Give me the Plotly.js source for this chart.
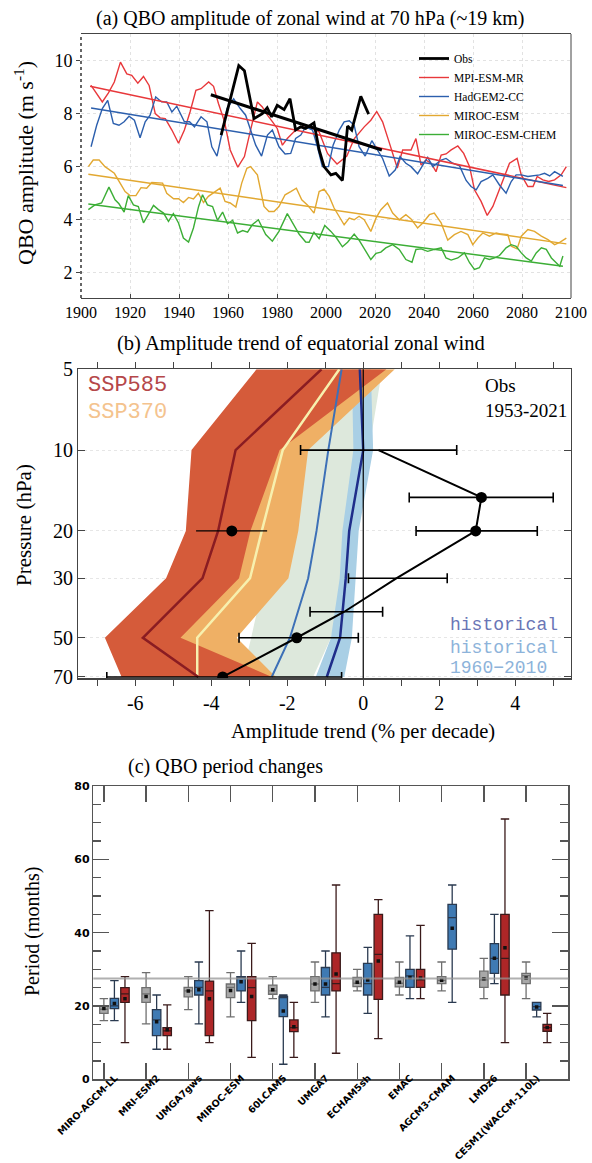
<!DOCTYPE html>
<html><head><meta charset="utf-8">
<script src="https://cdn.plot.ly/plotly-3.0.1.min.js"></script>
<style>html,body{margin:0;padding:0;background:#fff}#chart{width:592px;height:1163px}</style>
</head><body><div id="chart"></div>
<script>
// ---------------- Panel (a) data: QBO amplitude at 70 hPa ----------------
const obsYears = [1957.2,1964.4,1966.7,1970.6,1974.0,1976.0,1977.8,1980.1,1982.9,1985.3,1987.6,1989.7,1991.7,1993.8,1995.1,1997.2,1999.2,2002.0,2004.0,2006.7,2008.8,2010.5,2014.2,2017.4];
const obsAmp   = [7.19,9.81,9.62,7.81,8.0,8.22,7.88,8.31,8.15,8.56,7.38,7.5,7.44,7.56,7.65,6.63,6.0,5.69,5.75,5.48,7.53,7.38,8.65,7.98];
const obsTrendYears = [1953, 2022.8];
const obsTrendAmp   = [8.71, 6.63];

const mpiYears = [1904.1,1906.4,1908.7,1911.2,1913.6,1916.1,1918.7,1920.7,1923.2,1925.5,1927.8,1930.3,1932.3,1934.4,1937.1,1939.8,1942.2,1944.5,1946.9,1949.0,1952.1,1954.1,1956.1,1958.6,1960.9,1964.0,1966.7,1969.2,1972.0,1974.0,1976.1,1978.1,1980.1,1982.2,1984.2,1987.6,1991.1,1994.5,1997.2,2000.6,2004.5,2008.5,2011.5,2015.6,2018.3,2020.7,2023.1,2025.5,2029.1,2031.3,2034.7,2036.7,2038.8,2040.8,2042.9,2044.9,2047.0,2049.0,2051.1,2053.8,2056.2,2058.6,2060.6,2063.3,2065.8,2068.1,2070.8,2073.5,2074.9,2078.0,2079.7,2082.4,2084.5,2086.2,2088.5,2090.9,2093.3,2096.0,2098.1];
const mpiAmp   = [9.06,8.75,8.44,8.78,9.19,9.94,9.5,9.44,9.15,9.4,9.06,8.0,7.84,7.81,7.38,6.88,7.38,8.06,8.88,8.94,9.19,9.03,8.38,7.69,6.63,5.98,6.38,7.38,8.44,8.25,7.94,7.7,7.44,6.81,7.06,7.38,7.56,7.44,7.31,6.5,6.1,6.4,7.05,7.5,7.75,8.08,7.69,7.0,5.95,6.63,6.63,7.06,6.06,6.25,6.13,5.81,6.44,6.48,6.63,6.78,6.5,6.0,5.13,4.69,4.16,4.5,5.13,5.75,6.13,6.31,5.69,5.25,5.25,5.63,5.5,5.44,5.5,5.69,6.0];
const mpiTrendYears = [1903.7, 2098.1];
const mpiTrendAmp   = [9.03, 5.21];

const hadYears = [1904.1,1906.4,1908.7,1910.9,1913.2,1915.5,1917.6,1919.6,1921.8,1924.1,1926.2,1928.2,1930.5,1932.9,1935.0,1937.1,1939.1,1942.2,1944.3,1946.3,1949.0,1951.4,1953.4,1955.5,1957.5,1959.6,1962.3,1965.0,1967.2,1971.3,1973.7,1976.1,1978.1,1980.8,1983.3,1985.6,1987.6,1989.7,1991.7,1994.5,1996.5,1998.5,2001.0,2002.9,2005.4,2007.4,2009.5,2011.5,2013.5,2016.0,2018.7,2021.0,2023.1,2025.8,2028.3,2030.2,2032.6,2034.7,2037.4,2039.5,2041.5,2043.6,2047.0,2049.0,2051.7,2054.5,2057.2,2059.2,2061.3,2063.3,2066.0,2068.1,2070.8,2073.5,2075.6,2077.6,2079.7,2082.4,2084.5,2087.2,2089.2,2091.3,2093.3,2095.4,2096.7];
const hadAmp   = [6.75,7.56,8.19,8.5,7.63,7.56,7.69,7.9,7.75,7.09,7.69,7.94,8.63,8.44,8.44,8.06,8.28,7.69,7.69,7.5,7.88,7.69,6.75,6.4,7.25,8.19,8.56,8.19,7.94,6.81,6.4,7.19,7.38,6.75,6.48,6.5,7.06,7.19,7.5,7.38,6.75,6.0,6.0,6.81,7.38,7.69,7.73,7.56,6.75,6.4,6.98,6.63,6.31,5.65,5.88,6.38,6.13,6.0,5.73,6.06,6.35,6.0,6.25,6.31,6.13,6.03,5.48,5.25,5.13,5.44,5.56,5.69,5.31,5.0,5.44,5.69,5.69,5.63,5.65,5.69,5.75,5.65,5.81,5.69,5.63];
const hadTrendYears = [1904.1, 2096.7];
const hadTrendAmp   = [8.21, 5.29];

const mirocYears = [1903.0,1905.0,1907.4,1909.8,1913.6,1916.0,1918.0,1920.0,1922.4,1924.5,1926.8,1928.9,1931.6,1933.3,1935.0,1937.8,1939.8,1941.8,1943.9,1945.9,1947.9,1950.0,1952.0,1954.7,1956.8,1958.8,1960.9,1963.2,1965.6,1967.7,1969.2,1972.0,1974.7,1976.7,1978.8,1980.8,1983.3,1985.6,1987.9,1990.1,1992.4,1995.1,1997.2,1999.2,2001.3,2003.3,2005.4,2007.4,2009.5,2011.5,2013.5,2015.6,2018.3,2020.4,2022.4,2025.1,2027.2,2029.9,2032.6,2034.7,2037.4,2039.5,2042.2,2044.2,2047.0,2049.7,2052.4,2055.1,2057.9,2059.9,2062.0,2064.0,2066.7,2069.5,2071.5,2074.2,2075.6,2078.0,2079.7,2082.4,2085.1,2087.9,2090.6,2093.3,2095.4,2098.1];
const mirocAmp   = [6.0,6.25,6.25,6.0,5.75,5.38,5.06,4.91,4.91,5.21,5.19,5.4,5.38,5.38,5.0,4.79,4.79,4.65,4.84,4.78,5.0,4.65,4.88,5.06,5.19,4.69,4.63,4.48,5.38,5.94,6.0,5.69,4.5,4.31,4.31,4.5,4.94,5.06,5.19,4.75,4.56,4.25,5.06,5.15,4.88,4.44,4.13,3.81,4.06,4.0,4.13,4.0,3.56,4.06,4.38,4.63,4.25,4.0,4.19,4.03,3.69,3.88,4.19,4.25,3.88,3.23,3.44,3.56,3.44,3.06,3.31,3.5,3.38,3.5,3.46,3.44,3.0,2.9,3.38,3.63,3.56,3.38,3.25,3.06,3.15,3.31];
const mirocTrendYears = [1903.0, 2098.1];
const mirocTrendAmp   = [5.71, 3.09];

const chemYears = [1903.0,1905.7,1908.4,1911.4,1913.9,1915.5,1917.6,1919.3,1921.4,1923.4,1925.5,1927.5,1929.6,1931.6,1933.7,1935.7,1937.7,1939.8,1941.8,1943.9,1945.9,1948.0,1949.6,1951.6,1953.7,1955.7,1957.8,1959.8,1961.9,1963.9,1966.0,1968.0,1969.9,1972.4,1975.4,1978.1,1980.8,1984.2,1987.0,1989.0,1991.7,1993.1,1995.1,1997.2,1999.5,2002.0,2004.3,2006.7,2008.8,2011.5,2013.5,2016.3,2018.3,2020.4,2022.4,2024.4,2027.2,2029.9,2032.6,2035.1,2036.7,2038.8,2041.5,2044.2,2047.0,2049.0,2051.1,2053.8,2056.5,2058.6,2060.6,2062.6,2064.7,2066.7,2068.8,2070.8,2073.5,2075.6,2077.6,2079.7,2081.7,2083.8,2085.8,2087.9,2089.9,2092.0,2094.0,2095.4,2096.7];
const chemAmp   = [4.38,4.56,4.63,5.23,4.75,4.6,4.29,4.91,4.56,4.5,3.88,4.19,4.54,4.38,4.25,3.94,4.23,3.88,3.31,3.16,3.69,4.5,4.94,4.56,4.5,3.98,4.29,3.85,3.98,3.5,3.59,3.53,3.81,4.0,3.44,3.19,3.56,4.23,3.78,3.46,3.16,3.15,3.53,3.29,3.78,3.56,3.31,2.98,3.15,3.46,3.23,2.81,2.5,2.73,2.78,2.94,3.06,2.88,2.5,2.4,2.88,2.9,2.81,2.88,2.94,2.56,2.48,2.56,2.75,2.38,2.13,2.19,2.56,2.5,2.56,2.65,2.94,3.06,3.0,2.75,2.56,2.44,2.75,2.94,2.88,2.56,2.38,2.25,2.63];
const chemTrendYears = [1903.0, 2096.7];
const chemTrendAmp   = [4.59, 2.25];

// ---------------- Panel (b) data: amplitude trend profiles ----------------
const levels = [5, 10, 20, 30, 50, 70];
const ssp585Mean = [-1.10, -3.36, -3.82, -4.23, -5.80, -4.34];
const ssp585Low  = [-2.81, -4.52, -4.67, -5.19, -6.80, -6.36];
const ssp585High = [0.61, -2.20, -2.97, -3.27, -4.81, -2.40];
const ssp370Mean = [-0.63, -2.12, -2.67, -2.98, -4.37, -4.37];
const ssp370Low  = [-2.09, -2.79, -3.63, -3.99, -5.41, -6.20];
const ssp370High = [0.83, -1.45, -1.71, -1.97, -3.33, -2.30];
const histMean = [-0.57, -0.92, -1.23, -1.45, -1.93, -2.41];
const histLow  = [-1.60, -2.20, -2.40, -2.60, -2.95, -3.20];
const histHigh = [0.50, 0.15, -0.30, -0.45, -0.85, -1.32];
const hist6010Mean = [-0.09, 0.00, -0.37, -0.46, -0.61, -0.96];
const hist6010Low  = [-0.30, -0.26, -0.55, -0.62, -0.85, -1.25];
const hist6010High = [0.20, 0.26, -0.12, -0.20, -0.30, -0.50];

const obsLevels  = [10, 15, 20, 30, 40, 50, 70];
const obsTrend   = [0.40, 3.11, 2.96, 0.88, -0.50, -1.75, -3.70];
const obsErrLow  = [-1.65, 1.21, 1.39, -0.39, -1.40, -3.27, -6.75];
const obsErrHigh = [2.46, 5.00, 4.58, 2.21, 0.51, -0.13, -0.57];
const obsHasDot  = [false, true, true, false, false, true, true];
const extraLevel = [20];
const extraTrend = [-3.46];
const extraLow   = [-4.40];
const extraHigh  = [-2.53];

const trendTickVals = [-7,-6,-5,-4,-3,-2,-1,0,1,2,3,4,5];
const trendTickText = ['','-6','','-4','','-2','','0','','2','','4',''];
const pressureTicks = [5, 10, 20, 30, 50, 70];

// ---------------- Panel (c) data: QBO period ----------------
const periodModels = ['MIRO-AGCM-LL','MRI-ESM2','UMGA7gws','MIROC-ESM','60LCAM5','UMGA7','ECHAM5sh','EMAC','AGCM3-CMAM','LMDz6','CESM1(WACCM-110L)'];
const ctlLow  = [16.0, 15.1, 19.0, 17.0, 22.0, 21.0, 24.1, 23.0, 24.1, 22.0, 22.0];
const ctlQ1   = [18.0, 21.0, 22.5, 22.3, 23.2, 24.1, 25.3, 25.2, 26.1, 25.1, 26.1];
const ctlMed  = [19.1, 23.3, 24.1, 25.1, 24.1, 26.0, 26.2, 26.2, 27.0, 27.1, 28.3];
const ctlQ3   = [20.1, 25.0, 25.1, 26.0, 25.7, 28.0, 27.8, 27.8, 28.0, 29.5, 28.9];
const ctlHigh = [22.0, 29.1, 28.0, 29.1, 28.0, 32.0, 30.0, 32.0, 32.0, 33.0, 32.0];
const ctlMean = [19.3, 22.6, 24.1, 24.2, 24.4, 26.0, 26.5, 26.5, 27.0, 27.4, 27.6];

const e1Low  = [16.0, 8.2, 15.1, 21.0, 4.1, 17.0, 18.0, 22.0, 21.0, 26.1, 17.0];
const e1Q1   = [19.3, 11.9, 23.0, 24.1, 17.1, 23.0, 23.0, 25.1, 35.5, 28.9, 18.9];
const e1Med  = [20.0, 16.2, 25.1, 27.9, 22.3, 25.1, 26.1, 28.2, 44.1, 33.0, 19.8];
const e1Q3   = [22.1, 19.0, 26.9, 28.0, 22.6, 30.5, 31.6, 30.0, 47.7, 37.0, 21.0];
const e1High = [26.9, 23.0, 32.0, 35.0, 23.0, 35.0, 36.0, 39.1, 53.0, 45.0, 21.0];
const e1Mean = [20.7, 15.7, 24.4, 26.6, 18.6, 26.0, 27.1, 27.8, 41.2, 33.0, 19.7];

const e2Low  = [10.0, 8.2, 10.0, 6.0, 6.0, 7.1, 11.1, 22.0, null, 10.0, 10.0];
const e2Q1   = [21.0, 11.9, 11.9, 16.0, 13.0, 24.1, 21.8, 25.1, null, 23.0, 13.1];
const e2Med  = [23.3, 13.2, 24.1, 25.0, 14.1, 26.1, 34.1, 27.1, null, 33.0, 14.1];
const e2Q3   = [25.0, 14.1, 26.8, 28.0, 16.2, 34.5, 45.0, 30.0, null, 45.0, 15.0];
const e2High = [28.0, 20.3, 46.0, 37.1, 21.0, 53.0, 49.0, 42.0, null, 71.0, 18.0];
const e2Mean = [22.0, 13.5, 22.0, 22.6, 14.3, 28.7, 32.3, 27.6, null, 35.9, 14.1];

const refPeriod = 27.5;

// ---------------- helpers / styles ----------------
const W = 592, H = 1163;
const dx = p => p / W, dy = p => 1 - p / H;
const serif = '"Liberation Serif", "Times New Roman", serif';
const mono = '"Liberation Mono", "Courier New", monospace';
const sans = '"DejaVu Sans", Arial, sans-serif';

const traces = [];
// ----- panel a -----
function series(x, y, color, name, rank, width) {
  return {type:'scatter', mode:'lines', x:x, y:y, name:name, legendrank:rank,
          line:{color:color, width:width}, xaxis:'x', yaxis:'y'};
}
function trend(x, y, color, width) {
  return {type:'scatter', mode:'lines', x:x, y:y, showlegend:false, hoverinfo:'skip',
          line:{color:color, width:width}, xaxis:'x', yaxis:'y'};
}
const cRed='#e8383b', cBlue='#2c5fad', cYel='#e2a831', cGrn='#3cae36';
traces.push(series(mpiYears, mpiAmp, cRed, 'MPI-ESM-MR', 2, 1.4));
traces.push(series(hadYears, hadAmp, cBlue, 'HadGEM2-CC', 3, 1.4));
traces.push(series(mirocYears, mirocAmp, cYel, 'MIROC-ESM', 4, 1.4));
traces.push(series(chemYears, chemAmp, cGrn, 'MIROC-ESM-CHEM', 5, 1.4));
traces.push(trend(mpiTrendYears, mpiTrendAmp, cRed, 1.5));
traces.push(trend(hadTrendYears, hadTrendAmp, cBlue, 1.5));
traces.push(trend(mirocTrendYears, mirocTrendAmp, cYel, 1.5));
traces.push(trend(chemTrendYears, chemTrendAmp, cGrn, 1.5));
traces.push(series(obsYears, obsAmp, '#000', 'Obs', 1, 2.8));
traces.push(trend(obsTrendYears, obsTrendAmp, '#000', 3));

// ----- panel b -----
function band(lo, hi, color) {
  return {type:'scatter', mode:'lines', x: lo.concat(hi.slice().reverse()),
          y: levels.concat(levels.slice().reverse()), fill:'toself', fillcolor:color,
          line:{width:0, color:color}, showlegend:false, hoverinfo:'skip', xaxis:'x2', yaxis:'y2'};
}
function prof(x, color, width) {
  return {type:'scatter', mode:'lines', x:x, y:levels, line:{color:color, width:width},
          showlegend:false, xaxis:'x2', yaxis:'y2'};
}
traces.push(band(histLow, histHigh, '#dde8dc'));
traces.push(band(hist6010Low, hist6010High, '#a9cfe5'));
traces.push(band(ssp370Low, ssp370High, '#efb065'));
traces.push(band(ssp585Low, ssp585High, '#d55b3a'));
traces.push(prof(histMean, '#3d70b7', 2));
traces.push(prof(hist6010Mean, '#1f2d8a', 2.5));
traces.push(prof(ssp370Mean, '#f7f0ae', 2.5));
traces.push(prof(ssp585Mean, '#8a1c22', 2.5));
traces.push({type:'scatter', mode:'lines+markers', x:obsTrend, y:obsLevels, showlegend:false,
  line:{color:'#000', width:2}, marker:{color:'#000', opacity:1, line:{width:0}, size: obsHasDot.map(d => d ? 11 : 0)},
  error_x:{type:'data', symmetric:false,
    array: obsErrHigh.map((h,i) => h - obsTrend[i]),
    arrayminus: obsErrLow.map((l,i) => obsTrend[i] - l),
    color:'#000', thickness:1.6, width:5},
  xaxis:'x2', yaxis:'y2'});
traces.push({type:'scatter', mode:'markers', x:extraTrend, y:extraLevel, showlegend:false,
  marker:{color:'#000', size:11, line:{width:0}},
  error_x:{type:'data', symmetric:false,
    array: extraHigh.map((h,i) => h - extraTrend[i]),
    arrayminus: extraLow.map((l,i) => extraTrend[i] - l),
    color:'#000', thickness:1.1, width:0},
  xaxis:'x2', yaxis:'y2'});

// ----- panel c -----
function boxes(off, lo, q1, med, q3, hi, mean, fill, edge) {
  const idx = lo.map((v,i) => i).filter(i => lo[i] !== null);
  const xs = idx.map(i => i + off);
  traces.push({type:'box', x: xs, lowerfence: idx.map(i=>lo[i]), q1: idx.map(i=>q1[i]),
    median: idx.map(i=>med[i]), q3: idx.map(i=>q3[i]), upperfence: idx.map(i=>hi[i]),
    width: 0.2, whiskerwidth: 1, fillcolor: fill, line:{color: edge, width:1.3},
    boxpoints:false, showlegend:false, xaxis:'x3', yaxis:'y3', hoverinfo:'skip'});
  traces.push({type:'scatter', mode:'markers', x: xs, y: idx.map(i=>mean[i]), showlegend:false,
    marker:{symbol:'square', size:3.5, color:'#111'}, xaxis:'x3', yaxis:'y3', hoverinfo:'skip'});
}
boxes(0, ctlLow, ctlQ1, ctlMed, ctlQ3, ctlHigh, ctlMean, '#a8a8a8', '#6f6f6f');
boxes(0.25, e1Low, e1Q1, e1Med, e1Q3, e1High, e1Mean, '#3f7ab3', '#2a3a50');
boxes(0.5, e2Low, e2Q1, e2Med, e2Q3, e2High, e2Mean, '#ad2627', '#3a1a1a');

// ---------------- layout ----------------
const ann = [];
function txt(text, x, y, size, opts) {
  ann.push(Object.assign({text:text, x:dx(x), y:dy(y), xref:'paper', yref:'paper',
    xanchor:'center', yanchor:'middle', showarrow:false,
    font:{family:serif, size:size, color:'#000'}}, opts || {}));
}
txt('(a) QBO amplitude of zonal wind at 70 hPa (~19 km)', 310, 18, 20);
txt('QBO amplitude (m s<sup>-1</sup>)', 24, 163, 22, {textangle:-90});
txt('(b) Amplitude trend of equatorial zonal wind', 301, 343, 20.5);
txt('Pressure (hPa)', 24, 525, 21, {textangle:-90});
txt('Amplitude trend (% per decade)', 363, 731, 20.5);
txt('SSP585', 86, 385, 22, {xanchor:'left', font:{family:mono, size:22, color:'#b5474a'}});
txt('SSP370', 86, 412, 22, {xanchor:'left', font:{family:mono, size:22, color:'#f4c38e'}});
txt('Obs', 483, 385, 19, {xanchor:'left'});
txt('1953-2021', 483, 410, 19, {xanchor:'left'});
txt('historical', 448, 625, 18, {xanchor:'left', font:{family:mono, size:18, color:'#6a76b6'}});
txt('historical', 448, 648, 18, {xanchor:'left', font:{family:mono, size:18, color:'#8db3da'}});
txt('1960\u22122010', 448, 668, 18, {xanchor:'left', font:{family:mono, size:18, color:'#8db3da'}});
txt('(c) QBO period changes', 225, 766, 20);
txt('Period (months)', 32, 932, 20, {textangle:-90});

const layout = {
  width: W, height: H, margin:{l:0, r:0, t:0, b:0},
  paper_bgcolor:'#fff', plot_bgcolor:'#fff', showlegend:true,
  font:{family:serif, color:'#000'},
  legend:{x:dx(414), y:dy(44), xanchor:'left', yanchor:'top', bgcolor:'rgba(0,0,0,0)',
    font:{family:serif, size:11.5, color:'#000'}, itemwidth:30, borderwidth:0},
  xaxis:{domain:[dx(81), dx(571)], anchor:'y', range:[1900, 2100], tickvals:[1900,1920,1940,1960,1980,2000,2020,2040,2060,2080,2100],
    showline:true, mirror:true, linecolor:'#444', linewidth:1, ticks:'inside', ticklen:4, tickcolor:'#444',
    showgrid:true, gridcolor:'#e2e2e2', griddash:'dot', zeroline:false,
    tickfont:{family:serif, size:16, color:'#000'}},
  yaxis:{domain:[dy(298), dy(34)], anchor:'x', range:[1.05, 11], tickvals:[2,4,6,8,10],
    showline:false, ticks:'outside', ticklen:4, tickcolor:'#444',
    showgrid:true, gridcolor:'#e2e2e2', griddash:'dot', zeroline:false,
    tickfont:{family:serif, size:18, color:'#000'}},
  xaxis2:{domain:[dx(78.3), dx(570.7)], anchor:'y2', range:[-7.5, 5.46], tickvals:trendTickVals, ticktext:trendTickText,
    showline:true, mirror:'allticks', linecolor:'#444', linewidth:1.2, ticks:'outside', ticklen:6, tickcolor:'#444',
    showgrid:false, zeroline:false, tickfont:{family:serif, size:20, color:'#000'}},
  yaxis2:{domain:[dy(678.3), dy(369.3)], anchor:'x2', type:'log', range:[Math.log10(70.8), Math.log10(5)],
    tickvals:pressureTicks, ticktext:pressureTicks.map(String),
    showline:true, mirror:'allticks', linecolor:'#444', linewidth:1.2, ticks:'inside', ticklen:7, tickcolor:'#444',
    showgrid:true, gridcolor:'#e6e6e6', griddash:'dot', zeroline:false, tickfont:{family:serif, size:20, color:'#000'}},
  xaxis3:{domain:[dx(93.3), dx(568.3)], anchor:'y3', range:[-0.25, 11.0],
    tickvals: periodModels.map((m,i) => i), ticktext: periodModels, tickangle:-45,
    ticklabelstandoff:-12, ticklabelshift:11,
    showline:true, mirror:'allticks', linecolor:'#555', linewidth:1.5, ticks:'inside', ticklen:16, tickcolor:'#555', tickwidth:1.3,
    showgrid:false, zeroline:false, tickfont:{family:sans, size:9.5, weight:'bold', color:'#000'}},
  yaxis3:{domain:[dy(1079.3), dy(786)], anchor:'x3', range:[0, 80], tickvals:[0,20,40,60,80],
    showline:true, mirror:'allticks', linecolor:'#555', linewidth:1.5, ticks:'inside', ticklen:16, tickcolor:'#555', tickwidth:1.3,
    minor:{dtick:5, ticks:'inside', ticklen:8, tickcolor:'#555', tickwidth:1.3, showgrid:false},
    showgrid:false, zeroline:false, tickfont:{family:sans, size:11, weight:'bold', color:'#000'}},
  annotations: ann,
  shapes: [
    {type:'line', xref:'x domain', yref:'y domain', x0:0, x1:0, y0:0, y1:1, line:{color:'#000', width:1.2, dash:'dot'}},
    {type:'line', xref:'x domain', yref:'y domain', x0:1, x1:1, y0:0, y1:1, line:{color:'#444', width:1}},
    {type:'line', xref:'x2', yref:'y2 domain', x0:0, x1:0, y0:0, y1:1, layer:'above', line:{color:'#000', width:1.2}},
    {type:'line', xref:'x3 domain', yref:'y3', x0:0, x1:1, y0:refPeriod, y1:refPeriod, layer:'above', line:{color:'rgba(150,150,150,0.75)', width:2}}
  ]
};
Plotly.newPlot('chart', traces, layout, {staticPlot:true, displayModeBar:false});
</script></body></html>
